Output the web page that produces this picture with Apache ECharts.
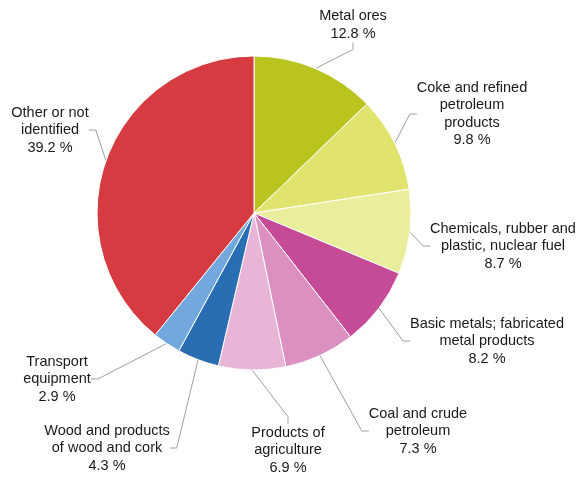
<!DOCTYPE html>
<html>
<head>
<meta charset="utf-8">
<script src="https://cdn.jsdelivr.net/npm/echarts@6/dist/echarts.min.js"></script>
<style>
html,body{margin:0;padding:0;background:#fff;}
#chart{width:582px;height:482px;}
</style>
</head>
<body>
<div id="chart"></div>
<script>
const categories = [
  'Metal ores',
  'Coke and refined\npetroleum\nproducts',
  'Chemicals, rubber and\nplastic, nuclear fuel',
  'Basic metals; fabricated\nmetal products',
  'Coal and crude\npetroleum',
  'Products of\nagriculture',
  'Wood and products\nof wood and cork',
  'Transport\nequipment',
  'Other or not\nidentified'
];
const shares = [12.8, 9.8, 8.7, 8.2, 7.3, 6.9, 4.3, 2.9, 39.2];
const colors = ['#bac41f', '#e0e46c', '#e9ee9c', '#c64b96', '#dc90c2', '#e8b5d7', '#296db2', '#72a8de', '#d63b41'];
// label block centres (layout only)
const labelCentres = [
  [353, 25], [472, 114], [503, 246], [487, 341], [418, 431],
  [288, 450], [107, 448], [57, 379], [50, 130]
];

const chart = echarts.init(document.getElementById('chart'));
chart.setOption({
  animation: false,
  backgroundColor: '#ffffff',
  series: [{
    type: 'pie',
    center: [254, 213],
    radius: 157,
    startAngle: 90,
    clockwise: true,
    avoidLabelOverlap: false,
    itemStyle: { borderColor: '#ffffff', borderWidth: 1 },
    label: {
      show: true,
      formatter: p => p.name + '\n' + p.value.toFixed(1) + ' %',
      fontFamily: 'Liberation Sans, Arial, sans-serif',
      fontSize: 14.5,
      lineHeight: 17.5,
      color: '#1a1a1a',
      align: 'center'
    },
    labelLine: {
      show: true,
      length: 10,
      length2: 7,
      lineStyle: { color: '#a0a0a0', width: 1 }
    },
    labelLayout: function (params) {
      const c = labelCentres[params.dataIndex];
      return { x: c[0], y: c[1], align: 'center', verticalAlign: 'middle' };
    },
    emphasis: { disabled: true },
    data: categories.map((name, i) => ({
      name: name,
      value: shares[i],
      itemStyle: { color: colors[i] }
    }))
  }]
});
</script>
</body>
</html>
